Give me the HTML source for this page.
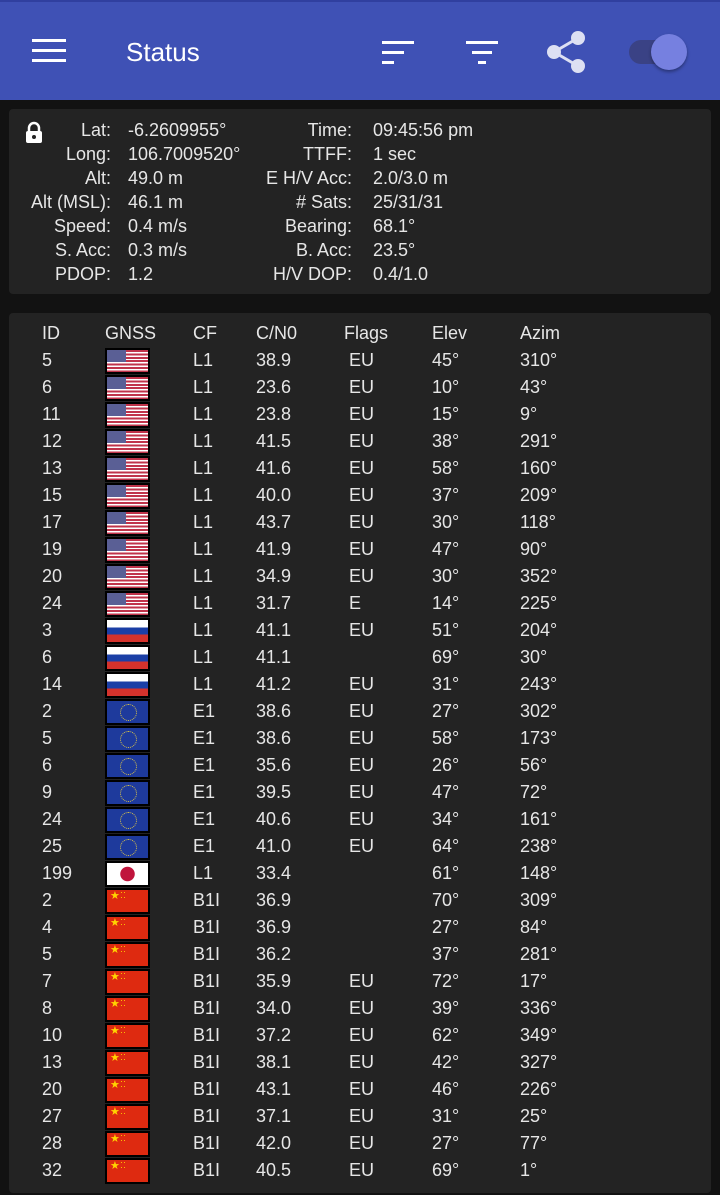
<!DOCTYPE html>
<html><head><meta charset="utf-8"><style>
*{margin:0;padding:0;box-sizing:border-box}
body{width:720px;height:1195px;background:#121212;font-family:"Liberation Sans",sans-serif;color:#e6e6e6;position:relative;overflow:hidden}
.bar{position:absolute;left:0;top:0;width:720px;height:100px;background:#3f51b5;border-top:2px solid #303f9f}
.title{position:absolute;left:126px;top:35px;font-size:26px;color:#fff}
.card{position:absolute;left:9px;width:702px;background:#232323;border-radius:4px}
.l{position:absolute;font-size:18px;line-height:24px}
.r{text-align:right}
.row{position:absolute;left:0;width:702px;height:27px;font-size:18px;line-height:27px}
.row span{position:absolute}
.c1{left:33px}.c3{left:184px}.c4{left:247px}.c5{left:340px}.c6{left:423px}.c7{left:511px}
.f{position:absolute;left:96px;top:1px;width:45px;height:26px;background:#000;padding:2px}
.f i{display:block;width:100%;height:100%}
.us{background:linear-gradient(#5a5f95,#5a5f95) 0 0/19px 12px no-repeat,repeating-linear-gradient(#c0334a 0 2px,#fff 2px 3.4px)}
.ru{background:linear-gradient(#fff 0 33%,#1b3fa6 33% 66%,#d4322c 66%)}
.eu{background:#1e3a9c;position:relative}
.eu:after{content:"";position:absolute;left:13px;top:3px;width:15px;height:15px;border-radius:50%;border:1.5px dotted #d8c24a}
.jp{background:radial-gradient(circle at 50% 50%,#c0143c 0 7px,#fff 7.5px)}
.cn{background:#de2a10;color:#ffd400;font-size:11px;line-height:12px;font-style:normal;padding-left:3px;position:relative}
.cn:after{content:"·· ··";position:absolute;left:13px;top:0;font-size:9px;line-height:5px;width:6px;word-break:break-all}
.h{position:absolute;top:10px;font-size:18px}
</style></head><body>
<div class="bar">
<div style="position:absolute;left:32px;top:37px;width:34px;height:3px;background:#fff;box-shadow:0 10px 0 #fff,0 20px 0 #fff"></div>
<div class="title">Status</div>
<div style="position:absolute;left:382px;top:39px;width:32px;height:3px;background:#fff"></div>
<div style="position:absolute;left:382px;top:49px;width:22px;height:3px;background:#fff"></div>
<div style="position:absolute;left:382px;top:59px;width:12px;height:3px;background:#fff"></div>
<div style="position:absolute;left:466px;top:39px;width:32px;height:3px;background:#fff"></div>
<div style="position:absolute;left:472px;top:49px;width:20px;height:3px;background:#fff"></div>
<div style="position:absolute;left:478px;top:59px;width:8px;height:3px;background:#fff"></div>
<svg style="position:absolute;left:540px;top:26px" width="52" height="50"><g stroke="#dde0f3" stroke-width="3"><line x1="14" y1="24" x2="38" y2="10"/><line x1="14" y1="24" x2="38" y2="38"/></g><g fill="#dde0f3"><circle cx="38" cy="10" r="7"/><circle cx="14" cy="24" r="7"/><circle cx="38" cy="38" r="7"/></g></svg>
<div style="position:absolute;left:629px;top:38px;width:40px;height:24px;border-radius:12px;background:#3a4285"></div>
<div style="position:absolute;left:651px;top:32px;width:36px;height:36px;border-radius:50%;background:#7680e0;box-shadow:0 2px 3px rgba(0,0,0,.35)"></div>
</div>

<div class="card" style="top:109px;height:185px">
<svg style="position:absolute;left:15px;top:12px" width="20" height="24"><path d="M5 10V7a5 5 0 0 1 10 0v3" stroke="#fff" stroke-width="2.5" fill="none"/><rect x="2" y="10" width="16" height="12" rx="2" fill="#fff"/><circle cx="10" cy="16" r="2" fill="#232323"/></svg>
<div class="l r" style="left:0;width:102px;top:9px">Lat:<br>Long:<br>Alt:<br>Alt (MSL):<br>Speed:<br>S. Acc:<br>PDOP:</div>
<div class="l" style="left:119px;top:9px">-6.2609955°<br>106.7009520°<br>49.0 m<br>46.1 m<br>0.4 m/s<br>0.3 m/s<br>1.2</div>
<div class="l r" style="left:200px;width:143px;top:9px">Time:<br>TTFF:<br>E H/V Acc:<br># Sats:<br>Bearing:<br>B. Acc:<br>H/V DOP:</div>
<div class="l" style="left:364px;top:9px">09:45:56 pm<br>1 sec<br>2.0/3.0 m<br>25/31/31<br>68.1°<br>23.5°<br>0.4/1.0</div>
</div>

<div class="card" style="top:313px;height:880px">
<span class="h" style="left:33px">ID</span><span class="h" style="left:96px">GNSS</span><span class="h" style="left:184px">CF</span><span class="h" style="left:247px">C/N0</span><span class="h" style="left:335px">Flags</span><span class="h" style="left:423px">Elev</span><span class="h" style="left:511px">Azim</span>
<div class="row" style="top:34px"><span class="c1">5</span><div class="f"><i class="us"></i></div><span class="c3">L1</span><span class="c4">38.9</span><span class="c5">EU</span><span class="c6">45°</span><span class="c7">310°</span></div>
<div class="row" style="top:61px"><span class="c1">6</span><div class="f"><i class="us"></i></div><span class="c3">L1</span><span class="c4">23.6</span><span class="c5">EU</span><span class="c6">10°</span><span class="c7">43°</span></div>
<div class="row" style="top:88px"><span class="c1">11</span><div class="f"><i class="us"></i></div><span class="c3">L1</span><span class="c4">23.8</span><span class="c5">EU</span><span class="c6">15°</span><span class="c7">9°</span></div>
<div class="row" style="top:115px"><span class="c1">12</span><div class="f"><i class="us"></i></div><span class="c3">L1</span><span class="c4">41.5</span><span class="c5">EU</span><span class="c6">38°</span><span class="c7">291°</span></div>
<div class="row" style="top:142px"><span class="c1">13</span><div class="f"><i class="us"></i></div><span class="c3">L1</span><span class="c4">41.6</span><span class="c5">EU</span><span class="c6">58°</span><span class="c7">160°</span></div>
<div class="row" style="top:169px"><span class="c1">15</span><div class="f"><i class="us"></i></div><span class="c3">L1</span><span class="c4">40.0</span><span class="c5">EU</span><span class="c6">37°</span><span class="c7">209°</span></div>
<div class="row" style="top:196px"><span class="c1">17</span><div class="f"><i class="us"></i></div><span class="c3">L1</span><span class="c4">43.7</span><span class="c5">EU</span><span class="c6">30°</span><span class="c7">118°</span></div>
<div class="row" style="top:223px"><span class="c1">19</span><div class="f"><i class="us"></i></div><span class="c3">L1</span><span class="c4">41.9</span><span class="c5">EU</span><span class="c6">47°</span><span class="c7">90°</span></div>
<div class="row" style="top:250px"><span class="c1">20</span><div class="f"><i class="us"></i></div><span class="c3">L1</span><span class="c4">34.9</span><span class="c5">EU</span><span class="c6">30°</span><span class="c7">352°</span></div>
<div class="row" style="top:277px"><span class="c1">24</span><div class="f"><i class="us"></i></div><span class="c3">L1</span><span class="c4">31.7</span><span class="c5">E</span><span class="c6">14°</span><span class="c7">225°</span></div>
<div class="row" style="top:304px"><span class="c1">3</span><div class="f"><i class="ru"></i></div><span class="c3">L1</span><span class="c4">41.1</span><span class="c5">EU</span><span class="c6">51°</span><span class="c7">204°</span></div>
<div class="row" style="top:331px"><span class="c1">6</span><div class="f"><i class="ru"></i></div><span class="c3">L1</span><span class="c4">41.1</span><span class="c6">69°</span><span class="c7">30°</span></div>
<div class="row" style="top:358px"><span class="c1">14</span><div class="f"><i class="ru"></i></div><span class="c3">L1</span><span class="c4">41.2</span><span class="c5">EU</span><span class="c6">31°</span><span class="c7">243°</span></div>
<div class="row" style="top:385px"><span class="c1">2</span><div class="f"><i class="eu"></i></div><span class="c3">E1</span><span class="c4">38.6</span><span class="c5">EU</span><span class="c6">27°</span><span class="c7">302°</span></div>
<div class="row" style="top:412px"><span class="c1">5</span><div class="f"><i class="eu"></i></div><span class="c3">E1</span><span class="c4">38.6</span><span class="c5">EU</span><span class="c6">58°</span><span class="c7">173°</span></div>
<div class="row" style="top:439px"><span class="c1">6</span><div class="f"><i class="eu"></i></div><span class="c3">E1</span><span class="c4">35.6</span><span class="c5">EU</span><span class="c6">26°</span><span class="c7">56°</span></div>
<div class="row" style="top:466px"><span class="c1">9</span><div class="f"><i class="eu"></i></div><span class="c3">E1</span><span class="c4">39.5</span><span class="c5">EU</span><span class="c6">47°</span><span class="c7">72°</span></div>
<div class="row" style="top:493px"><span class="c1">24</span><div class="f"><i class="eu"></i></div><span class="c3">E1</span><span class="c4">40.6</span><span class="c5">EU</span><span class="c6">34°</span><span class="c7">161°</span></div>
<div class="row" style="top:520px"><span class="c1">25</span><div class="f"><i class="eu"></i></div><span class="c3">E1</span><span class="c4">41.0</span><span class="c5">EU</span><span class="c6">64°</span><span class="c7">238°</span></div>
<div class="row" style="top:547px"><span class="c1">199</span><div class="f"><i class="jp"></i></div><span class="c3">L1</span><span class="c4">33.4</span><span class="c6">61°</span><span class="c7">148°</span></div>
<div class="row" style="top:574px"><span class="c1">2</span><div class="f"><i class="cn">★</i></div><span class="c3">B1I</span><span class="c4">36.9</span><span class="c6">70°</span><span class="c7">309°</span></div>
<div class="row" style="top:601px"><span class="c1">4</span><div class="f"><i class="cn">★</i></div><span class="c3">B1I</span><span class="c4">36.9</span><span class="c6">27°</span><span class="c7">84°</span></div>
<div class="row" style="top:628px"><span class="c1">5</span><div class="f"><i class="cn">★</i></div><span class="c3">B1I</span><span class="c4">36.2</span><span class="c6">37°</span><span class="c7">281°</span></div>
<div class="row" style="top:655px"><span class="c1">7</span><div class="f"><i class="cn">★</i></div><span class="c3">B1I</span><span class="c4">35.9</span><span class="c5">EU</span><span class="c6">72°</span><span class="c7">17°</span></div>
<div class="row" style="top:682px"><span class="c1">8</span><div class="f"><i class="cn">★</i></div><span class="c3">B1I</span><span class="c4">34.0</span><span class="c5">EU</span><span class="c6">39°</span><span class="c7">336°</span></div>
<div class="row" style="top:709px"><span class="c1">10</span><div class="f"><i class="cn">★</i></div><span class="c3">B1I</span><span class="c4">37.2</span><span class="c5">EU</span><span class="c6">62°</span><span class="c7">349°</span></div>
<div class="row" style="top:736px"><span class="c1">13</span><div class="f"><i class="cn">★</i></div><span class="c3">B1I</span><span class="c4">38.1</span><span class="c5">EU</span><span class="c6">42°</span><span class="c7">327°</span></div>
<div class="row" style="top:763px"><span class="c1">20</span><div class="f"><i class="cn">★</i></div><span class="c3">B1I</span><span class="c4">43.1</span><span class="c5">EU</span><span class="c6">46°</span><span class="c7">226°</span></div>
<div class="row" style="top:790px"><span class="c1">27</span><div class="f"><i class="cn">★</i></div><span class="c3">B1I</span><span class="c4">37.1</span><span class="c5">EU</span><span class="c6">31°</span><span class="c7">25°</span></div>
<div class="row" style="top:817px"><span class="c1">28</span><div class="f"><i class="cn">★</i></div><span class="c3">B1I</span><span class="c4">42.0</span><span class="c5">EU</span><span class="c6">27°</span><span class="c7">77°</span></div>
<div class="row" style="top:844px"><span class="c1">32</span><div class="f"><i class="cn">★</i></div><span class="c3">B1I</span><span class="c4">40.5</span><span class="c5">EU</span><span class="c6">69°</span><span class="c7">1°</span></div>
</div>
</body></html>
